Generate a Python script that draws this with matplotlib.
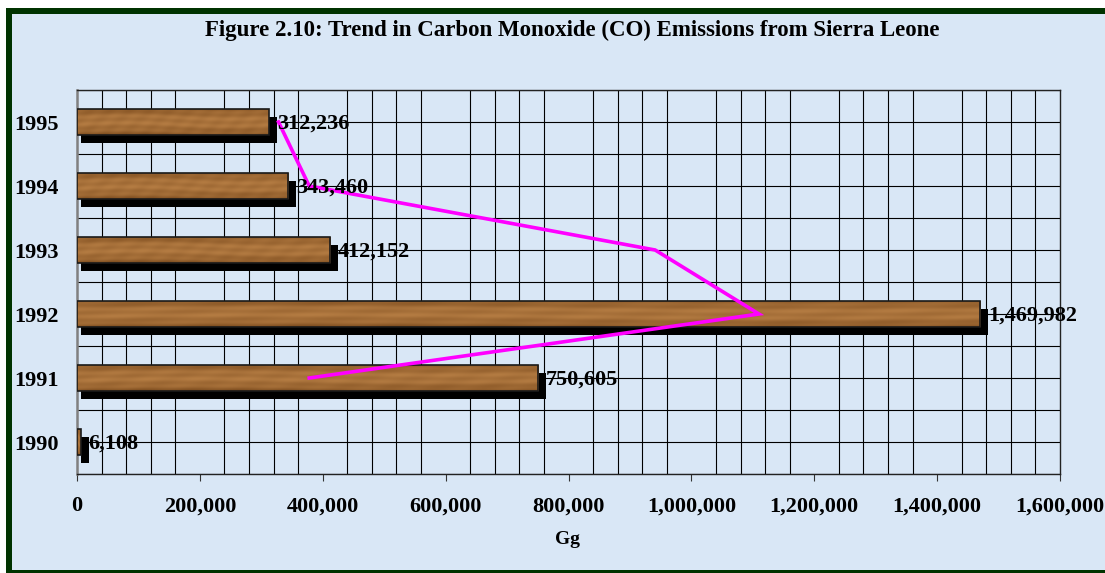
import numpy as np
import matplotlib.pyplot as plt
from matplotlib.patches import Rectangle

# Data
years = ['1990', '1991', '1992', '1993', '1994', '1995']
emissions = [6108, 750605, 1469982, 412152, 343460, 312236]
# magenta trend line (2-period moving average)
trend_years = ['1991', '1992', '1993', '1994', '1995']
trend_vals = [378000, 1110000, 941000, 378000, 328000]
xticks = [0, 200000, 400000, 600000, 800000, 1000000, 1200000, 1400000, 1600000]

W, H = 1105, 573
font = 'Liberation Serif'
plt.rcParams['font.family'] = [font, 'DejaVu Serif']

fig = plt.figure(figsize=(W / 100, H / 100), dpi=100)
fig.patch.set_facecolor('white')

# green frame and light blue background
fig.patches.append(Rectangle((6 / W, 0), 1, (H - 8) / H, transform=fig.transFigure,
                             facecolor='#003300', edgecolor='none', zorder=-3))
fig.patches.append(Rectangle((12 / W, 3 / H), 1, (H - 14 - 3) / H, transform=fig.transFigure,
                             facecolor='#d9e7f6', edgecolor='none', zorder=-2))

ax = fig.add_axes([77 / W, (H - 474) / H, (1060 - 77) / W, (474 - 90) / H])
ax.set_facecolor('none')

# grid
ax.set_xticks(xticks)
ax.set_xticks(np.arange(0, 1600001, 40000), minor=True)
ax.set_yticks(range(len(years)))
ax.set_yticks(np.arange(-0.5, 5.6, 1.0), minor=True)
ax.grid(True, which='minor', color='black', linewidth=0.8)
ax.grid(True, which='major', axis='y', color='black', linewidth=0.8)
ax.set_axisbelow(True)

ax.set_xticklabels([f'{t:,}' for t in xticks], fontsize=16, fontweight='bold')
ax.set_yticklabels(years, fontsize=16, fontweight='bold')
ax.tick_params(axis='x', which='major', length=5, direction='out', pad=11, color='#333333')
ax.tick_params(axis='x', which='minor', length=0)
ax.tick_params(axis='y', which='both', length=0, pad=13)

for s in ['top', 'right', 'bottom']:
    ax.spines[s].set_color('#222222')
    ax.spines[s].set_linewidth(1)
ax.spines['left'].set_color('#808080')
ax.spines['left'].set_linewidth(1.8)

# wood texture: dark edges, lighter middle, soft horizontal streaks
rows, cols = 60, 400
yy = np.linspace(0, 1, rows)[:, None]
xx = np.linspace(0, 1, cols)[None, :]
v = (0.3 + 0.45 * np.sin(np.pi * yy) ** 0.7
     + 0.08 * np.sin(yy * 23 + 1.5 * np.sin(xx * 6))
     + 0.04 * np.sin(xx * 60 + yy * 9))
v = np.clip(v, 0, 1)
dark = np.array([0x6a, 0x3c, 0x12]) / 255
light = np.array([0xc0, 0x86, 0x4a]) / 255
wood = dark + (light - dark) * v[..., None]

bh = 0.41
for i, val in enumerate(emissions):
    # shadow
    ax.add_patch(Rectangle((6500, i - bh / 2 - 0.125), val + 6500, bh,
                           facecolor='black', edgecolor='none', zorder=2))
    face = Rectangle((0, i - bh / 2), val, bh, facecolor='none',
                     edgecolor='#1a1a1a', linewidth=1.2, zorder=4)
    ax.add_patch(face)
    im = ax.imshow(wood, extent=(0, val, i - bh / 2, i + bh / 2), aspect='auto',
                   interpolation='bilinear', zorder=3)
    im.set_clip_path(face)
    ax.text(val + 13000, i - 0.02, f'{val:,}', fontsize=16, fontweight='bold',
            ha='left', va='center', zorder=6)

ax.set_xlim(0, 1600000)
ax.set_ylim(-0.5, 5.5)

ty = [years.index(y) for y in trend_years]
ax.plot(trend_vals, ty, color='#ff00ff', linewidth=2.6, zorder=5,
        solid_joinstyle='miter')

fig.text(572 / W, 1 - 30 / H,
         'Figure 2.10: Trend in Carbon Monoxide (CO) Emissions from Sierra Leone',
         ha='center', va='center', fontsize=16.5, fontweight='bold')
fig.text(568 / W, 1 - 540 / H, 'Gg', ha='center', va='center',
         fontsize=14, fontweight='bold')

fig.savefig('out.png', dpi=100)
